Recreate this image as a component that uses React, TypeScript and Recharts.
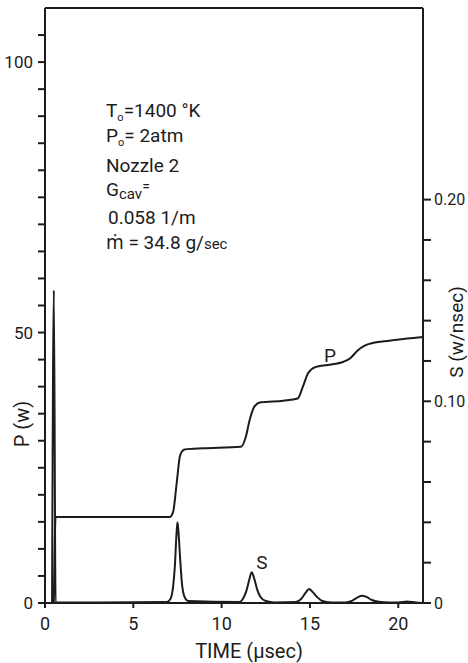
import React from "react";
import { ComposedChart, Line, XAxis, YAxis, ReferenceLine } from "recharts";

// P (W) curve, left axis
const pTime = [0.5, 0.6, 7.05, 7.25, 7.45, 7.65, 7.9, 9.0, 11.1, 11.35, 11.6, 11.85, 12.2, 13.5, 14.3, 14.6, 14.9, 15.3, 16.0, 16.9, 17.3, 17.7, 18.1, 18.6, 19.5, 20.5, 21.4];
const pValue = [0, 15.9, 15.9, 16.8, 22, 27.3, 28.4, 28.6, 28.9, 30.5, 34.0, 36.3, 37.1, 37.4, 37.8, 40.0, 42.5, 43.6, 44.0, 44.6, 45.3, 46.7, 47.6, 48.1, 48.5, 48.9, 49.2];

// S (w/nsec) curve, right axis
const sTime = [0.4, 0.5, 0.6, 3.0, 6.9, 7.1, 7.25, 7.35, 7.45, 7.5, 7.55, 7.65, 7.75, 7.9, 8.1, 11.0, 11.2, 11.4, 11.55, 11.7, 11.85, 12.0, 12.2, 12.5, 13.0, 14.2, 14.5, 14.75, 14.95, 15.15, 15.4, 15.7, 16.2, 17.0, 17.4, 17.7, 17.95, 18.2, 18.5, 18.9, 19.5, 20.0, 20.5, 21.0, 21.4];
const sValue = [0, 0.155, 0.0003, 0.0003, 0.0005, 0.002, 0.008, 0.018, 0.035, 0.04, 0.036, 0.022, 0.01, 0.003, 0.001, 0.0005, 0.002, 0.006, 0.011, 0.0153, 0.012, 0.007, 0.003, 0.001, 0.0003, 0.0005, 0.002, 0.005, 0.007, 0.0055, 0.003, 0.001, 0.0003, 0.0003, 0.0012, 0.0028, 0.0036, 0.003, 0.0015, 0.0006, 0.0003, 0.0003, 0.0008, 0.0002, 0];

const xTicks = [0, 5, 10, 15, 20];
const pTicks = [0, 5, 10, 15, 20, 25, 30, 35, 40, 45, 50, 55, 60, 65, 70, 75, 80, 85, 90, 95, 100, 105];
const pLabels = [0, 50, 100];
const sTicks = [0, 0.02, 0.04, 0.06, 0.08, 0.1, 0.12, 0.14, 0.16, 0.18, 0.2];
const sLabels: Record<string, string> = { "0": "0", "0.1": "0.10", "0.2": "0.20" };

const pData = pTime.map((t, i) => ({ t, p: pValue[i] }));
const sData = sTime.map((t, i) => ({ t, s: sValue[i] }));

const ink = "#1c1c1c";
const font = "Roboto, 'Noto Sans', sans-serif";

export default function App() {
  return (
    <div style={{ position: "fixed", left: 0, top: 0, width: 468, height: 663, background: "#fff" }}>
      <ComposedChart width={468} height={663} margin={{ top: 8, right: 0, bottom: 0, left: 0 }}>
        <XAxis
          type="number"
          dataKey="t"
          domain={[0, 21.4]}
          ticks={xTicks}
          allowDataOverflow
          height={60}
          tickSize={5}
          tickMargin={9}
          stroke={ink}
          axisLine={{ stroke: ink, strokeWidth: 2 }}
          tickLine={{ stroke: ink, strokeWidth: 2 }}
          tick={{ fill: ink, fontSize: 18, fontFamily: font }}
        />
        <YAxis
          yAxisId="left"
          domain={[0, 110]}
          ticks={pTicks}
          width={45}
          tickSize={7}
          tickMargin={5}
          interval={0}
          axisLine={{ stroke: ink, strokeWidth: 2 }}
          tickLine={{ stroke: ink, strokeWidth: 2 }}
          tick={{ fill: ink, fontSize: 17, fontFamily: font }}
          tickFormatter={v => (pLabels.includes(v) ? String(v) : "")}
        />
        <YAxis
          yAxisId="right"
          orientation="right"
          domain={[0, 0.295]}
          ticks={sTicks}
          width={45}
          tickSize={8}
          tickMargin={3}
          interval={0}
          axisLine={{ stroke: ink, strokeWidth: 2 }}
          tickLine={{ stroke: ink, strokeWidth: 2 }}
          tick={{ fill: ink, fontSize: 16, fontFamily: font }}
          tickFormatter={v => sLabels[String(Math.round(v * 100) / 100)] ?? ""}
        />
        <ReferenceLine yAxisId="left" y={110} stroke={ink} strokeWidth={2} />
        <Line
          yAxisId="left"
          data={pData}
          dataKey="p"
          type="monotone"
          stroke={ink}
          strokeWidth={2}
          dot={false}
          isAnimationActive={false}
        />
        <Line
          yAxisId="right"
          data={sData}
          dataKey="s"
          type="monotone"
          stroke={ink}
          strokeWidth={2}
          dot={false}
          isAnimationActive={false}
        />
      </ComposedChart>
      <svg
        width={468}
        height={663}
        style={{ position: "absolute", left: 0, top: 0, pointerEvents: "none" }}
        fontFamily={font}
        fill={ink}
      >
        <g fontSize={19}>
          <text x={106} y={117}>
            T<tspan fontSize={11} dy={4}>o</tspan>
            <tspan dy={-4}>=1400 °K</tspan>
          </text>
          <text x={106} y={142}>
            P<tspan fontSize={11} dy={4}>o</tspan>
            <tspan dy={-4}>= 2atm</tspan>
          </text>
          <text x={106} y={172}>Nozzle 2</text>
          <text x={106} y={196}>
            G<tspan fontSize={15} dy={3}>cav</tspan>
            <tspan fontSize={14} dy={-8}>=</tspan>
          </text>
          <text x={108} y={224}>0.058  1/m</text>
          <text x={106} y={249}>
            ṁ = 34.8 g/<tspan fontSize={15}>sec</tspan>
          </text>
        </g>
        <text x={330} y={362} fontSize={19} textAnchor="middle">P</text>
        <text x={262} y={569} fontSize={19} textAnchor="middle">S</text>
        <text x={249} y={658} fontSize={20} textAnchor="middle">TIME (μsec)</text>
        <text
          x={0}
          y={0}
          fontSize={20}
          textAnchor="middle"
          dominantBaseline="central"
          transform="translate(22 424) rotate(-90)"
        >
          P  (w)
        </text>
        <text
          x={0}
          y={0}
          fontSize={19}
          textAnchor="middle"
          dominantBaseline="central"
          transform="translate(456 332) rotate(-90)"
        >
          S (w/nsec)
        </text>
      </svg>
    </div>
  );
}
